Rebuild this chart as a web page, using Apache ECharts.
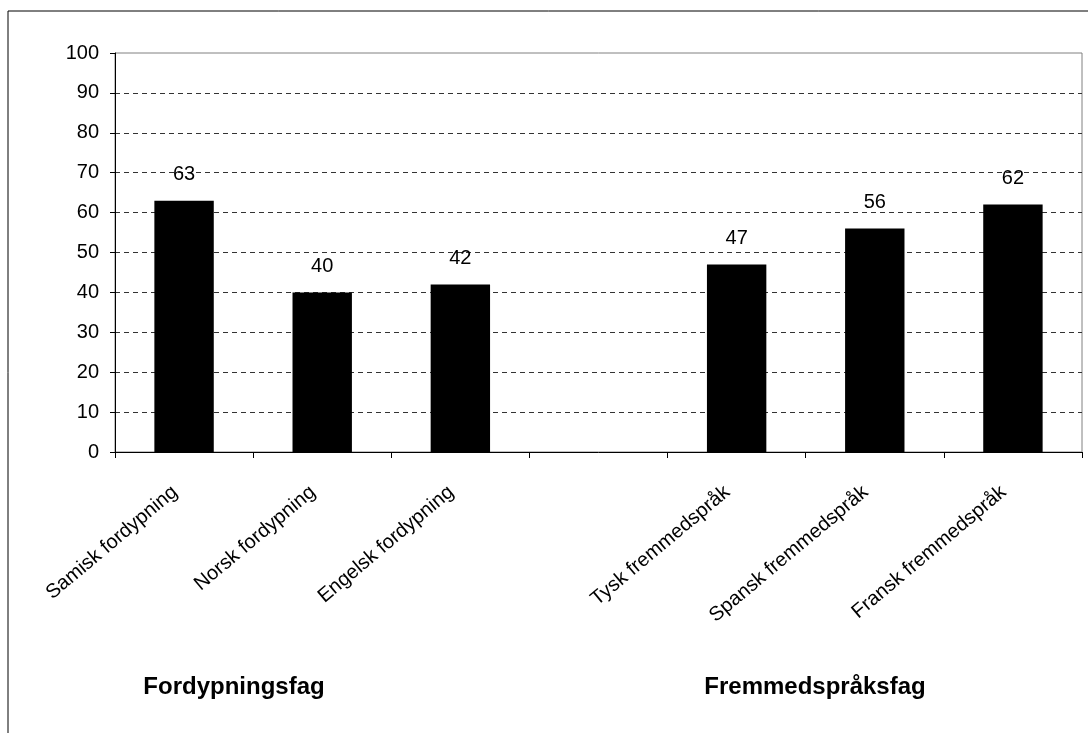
<!DOCTYPE html>
<html>
<head>
<meta charset="utf-8">
<script src="https://cdn.jsdelivr.net/npm/echarts@6/dist/echarts.min.js"></script>
<style>
html,body{margin:0;padding:0;background:#fff;}
#chart{width:1088px;height:733px;}
</style>
</head>
<body>
<div id="chart"></div>
<script>
const categories = ['Samisk fordypning', 'Norsk fordypning', 'Engelsk fordypning', '', 'Tysk fremmedspråk', 'Spansk fremmedspråk', 'Fransk fremmedspråk'];
const values = [63, 40, 42, null, 47, 56, 62];
const yTicks = [0, 10, 20, 30, 40, 50, 60, 70, 80, 90, 100];
const groupLabels = ['Fordypningsfag', 'Fremmedspråksfag'];

const chart = echarts.init(document.getElementById('chart'));
const font = 'Arial, "Liberation Sans", sans-serif';
chart.setOption({
  animation: false,
  backgroundColor: '#fff',
  grid: {
    left: 115, right: 6, top: 53, bottom: 281,
    show: true, borderColor: '#808080', borderWidth: 1, backgroundColor: 'transparent'
  },
  xAxis: {
    type: 'category',
    data: categories,
    axisLine: { lineStyle: { color: '#000', width: 1 } },
    axisTick: { show: true, interval: 0, length: 6, lineStyle: { color: '#000' } },
    axisLabel: { interval: 0, rotate: 40, fontSize: 20, fontFamily: font, color: '#000', margin: 30, padding: [0, 12, 0, 0] },
    splitLine: { show: false }
  },
  yAxis: {
    type: 'value',
    min: yTicks[0], max: yTicks[yTicks.length - 1], interval: 10,
    axisLine: { show: true, lineStyle: { color: '#000', width: 1 } },
    axisTick: { show: true, length: 5, lineStyle: { color: '#000' } },
    axisLabel: { fontSize: 20, fontFamily: font, color: '#000', margin: 16 },
    splitLine: { show: true, showMinLine: false, showMaxLine: false, lineStyle: { color: '#333', type: [5, 4], width: 1 } }
  },
  series: [{
    type: 'bar',
    data: values,
    barWidth: '43%',
    itemStyle: { color: '#000' },
    label: { show: true, position: 'top', distance: 16, fontSize: 20, fontFamily: font, color: '#000' }
  }],
  graphic: [
    { type: 'rect', shape: { x: 8, y: 11, width: 1100, height: 740 }, style: { fill: 'none', stroke: '#000', lineWidth: 1 }, silent: true, z: -10 },
    { type: 'text', x: 234, y: 687, style: { text: groupLabels[0], font: 'bold 24px ' + font, fill: '#000', textAlign: 'center', textVerticalAlign: 'middle' } },
    { type: 'text', x: 815, y: 687, style: { text: groupLabels[1], font: 'bold 24px ' + font, fill: '#000', textAlign: 'center', textVerticalAlign: 'middle' } }
  ]
});
</script>
</body>
</html>
